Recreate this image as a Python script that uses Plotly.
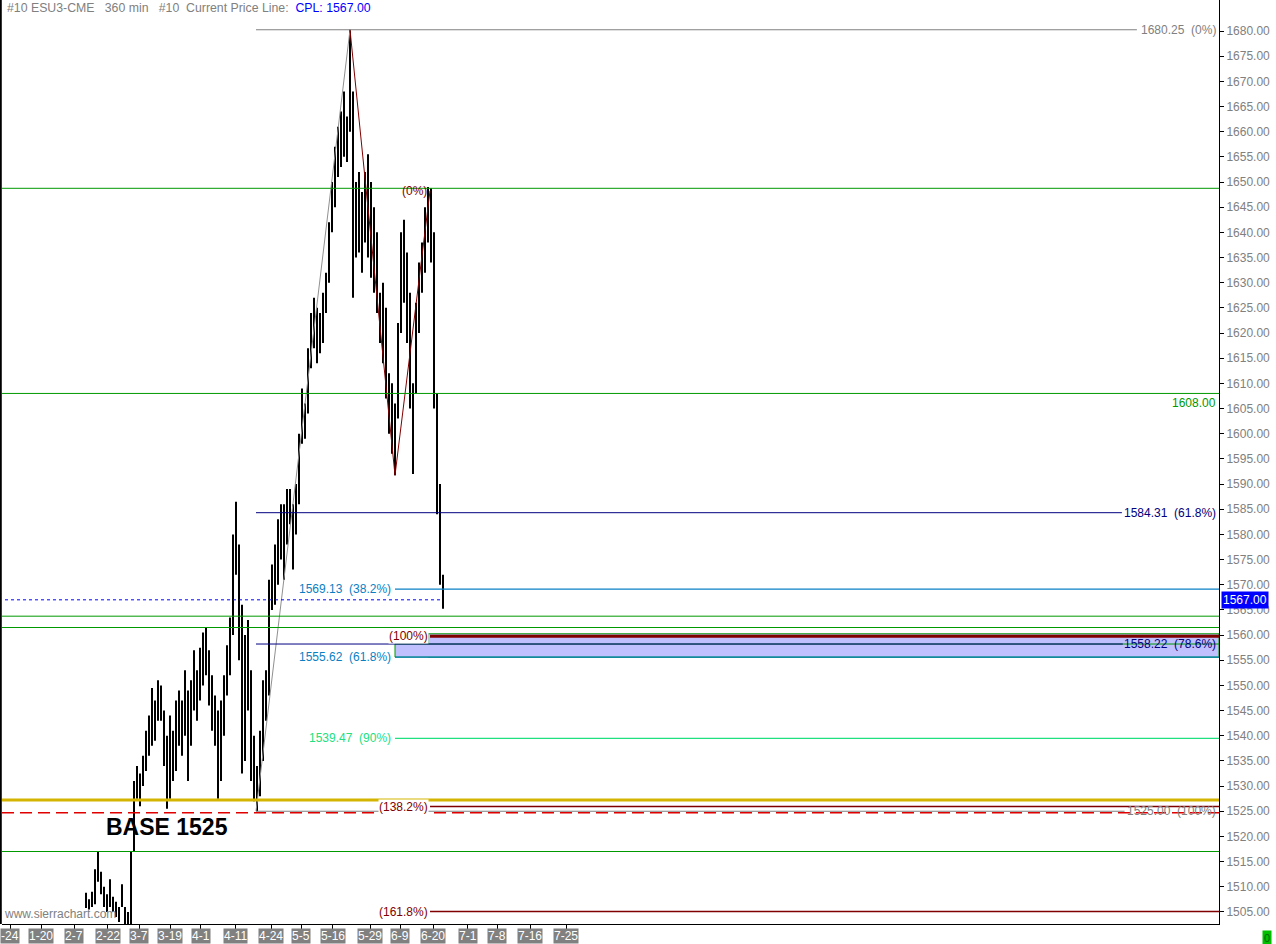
import plotly.graph_objects as go

# ---------------- data ----------------
# bar slots (360-min bars, compressed) and their high / low prices
bar_idx = list(range(1, 148))
highs = [
    1418, 1422, 1425, 1430, 1436, 1441, 1447, 1452, 1458, 1461, 1465, 1470, 1474, 1476, 1479,
    1483, 1486, 1489, 1492, 1490, 1494, 1497, 1499, 1496, 1500, 1501, 1499,
    1508.8, 1507.5, 1509, 1513.5, 1517, 1513, 1510, 1508.5, 1511.5, 1508, 1507, 1506, 1510.5,
    1506, 1505, 1517, 1531, 1534, 1532.5, 1536, 1541, 1544, 1549.5, 1547, 1551, 1550, 1545,
    1540, 1544, 1541, 1547, 1549, 1547, 1553, 1549, 1551, 1557, 1553, 1557.5, 1560.5, 1561.5,
    1557, 1552, 1548, 1545, 1547, 1552, 1558, 1563.5, 1580, 1586.5, 1578, 1566, 1560, 1563,
    1553, 1540, 1534, 1541, 1551, 1553, 1571, 1574, 1578, 1583, 1586, 1586, 1589, 1589, 1586,
    1590, 1600, 1609, 1606, 1617, 1624, 1627, 1625, 1624, 1628, 1632, 1642, 1650, 1657, 1661,
    1664, 1668, 1663, 1680.25, 1668, 1650, 1652, 1648, 1652, 1655.5, 1650, 1645, 1640, 1628,
    1630, 1625, 1612, 1610, 1606, 1622, 1640, 1642.5, 1636, 1628, 1610, 1626, 1634, 1638, 1645,
    1649, 1648.75, 1640, 1608, 1590, 1572,
]
lows = [
    1410, 1414, 1417, 1421, 1428, 1433, 1438, 1444, 1449, 1453, 1457, 1461, 1466, 1468, 1471,
    1475, 1478, 1481, 1484, 1483, 1486, 1489, 1491, 1489, 1492, 1494, 1492,
    1505.8, 1505.5, 1506, 1506.5, 1511, 1508.5, 1506, 1505, 1506, 1505, 1504, 1503, 1506,
    1502, 1500, 1500, 1517, 1527.5, 1526, 1530, 1533, 1536, 1538, 1539, 1543, 1543, 1534,
    1525.5, 1527.5, 1531, 1533, 1538, 1536, 1540, 1531, 1538, 1545, 1543, 1547, 1550, 1552,
    1546, 1541, 1538, 1527.5, 1531, 1540, 1548, 1552, 1560, 1572, 1555, 1532.5, 1535, 1545,
    1531, 1527, 1525, 1528, 1535, 1543, 1548, 1565, 1566, 1570, 1575, 1571, 1578, 1582, 1573,
    1580, 1586, 1598, 1599, 1604, 1613, 1617, 1614, 1616, 1618, 1624, 1630, 1640, 1645, 1651,
    1653, 1655, 1654, 1660, 1627, 1635, 1636, 1632, 1638, 1635, 1631, 1628, 1624, 1618,
    1614, 1607, 1600, 1596, 1591.75, 1603, 1620, 1626, 1618, 1605, 1592, 1608, 1620, 1628, 1632,
    1638, 1634, 1605, 1584, 1570, 1565.25,
]

tick_pos = [2.7, 13, 24, 35.3, 45.7, 56, 66.3, 77.7, 89.7, 99.7, 110.3, 122.7, 132.7, 143.7,
            155.3, 165, 176, 188]
tick_text = ["-24", "1-20", "2-7", "2-22", "3-7", "3-19", "4-1", "4-11", "4-24", "5-5", "5-16",
             "5-29", "6-9", "6-20", "7-1", "7-8", "7-16", "7-25"]

price_ticks = [1505 + 5 * k for k in range(36)]

current_price = 1567.00
green_levels = [1648.75, 1608.00, 1563.75, 1561.5, 1517.0]
gold_level = 1527.25
base_level = 1524.7

# swing anchors (bar slot, price)
swing_low_idx, swing_low = 84.67, 1525.00
peak_idx, peak = 116, 1680.25
b_idx, b_low = 131, 1591.75
c_idx, c_high = 142.67, 1648.25

fib1_levels = [1680.25, 1584.31, 1558.22, 1525.00]
fib1_labels = ["1680.25\u00a0\u00a0(0%)", "1584.31\u00a0\u00a0(61.8%)", "1558.22\u00a0\u00a0(78.6%)",
               "1525.00\u00a0\u00a0(100%)"]
fib1_colors = ["#808080", "#000080", "#000080", "#808080"]
fib1_line_end = [378.3, 373.3, 373.6, 374.2]

fib2_levels = [1569.13, 1555.62, 1539.47]
fib2_labels = ["1569.13\u00a0\u00a0(38.2%)", "1555.62\u00a0\u00a0(61.8%)", "1539.47\u00a0\u00a0(90%)"]
fib2_colors = ["#0A80C4", "#0A80C4", "#20E080"]

ext_levels = [1559.75, 1525.94, 1505.06]
ext_labels = ["(100%)", "(138.2%)", "(161.8%)"]
ext_widths = [3, 1.5, 1.5]

zone_top_right = 1560.25

# ---------------- figure ----------------
XMAX = 1217 / 3.0
YMIN, YMAX = 1502.6, 1686.16
FONT = "Liberation Sans, Arial, sans-serif"

fig = go.Figure()

bx, by = [], []
for i, h, l in zip(bar_idx, highs, lows):
    bx += [i, i, None]
    by += [l, h, None]
fig.add_trace(go.Scatter(x=bx, y=by, mode="lines", line=dict(color="black", width=2),
                         hoverinfo="skip", showlegend=False))

fig.add_trace(go.Scatter(x=[swing_low_idx, peak_idx], y=[swing_low, peak], mode="lines",
                         line=dict(color="#909090", width=1), showlegend=False))
fig.add_trace(go.Scatter(x=[peak_idx, b_idx, c_idx], y=[peak, b_low, c_high], mode="lines",
                         line=dict(color="#800000", width=1), showlegend=False))

shapes = []
# shaded zone
shapes.append(dict(type="rect", xref="x", yref="y", x0=c_idx - 0.67, x1=XMAX,
                   y0=fib2_levels[1], y1=zone_top_right, fillcolor="#C0C0FF",
                   line=dict(color="#009900", width=1), layer="below"))
shapes.append(dict(type="rect", xref="x", yref="y", x0=b_idx, x1=XMAX,
                   y0=fib2_levels[1], y1=fib1_levels[2], fillcolor="#C0C0FF",
                   line=dict(color="#009900", width=1), layer="below"))

for lv in green_levels:
    shapes.append(dict(type="line", xref="paper", yref="y", x0=0, x1=1, y0=lv, y1=lv,
                       line=dict(color="#009900", width=1)))
shapes.append(dict(type="line", xref="paper", yref="y", x0=0, x1=1, y0=gold_level, y1=gold_level,
                   line=dict(color="#D4B400", width=3)))

for lv, col, xe in zip(fib1_levels, fib1_colors, fib1_line_end):
    shapes.append(dict(type="line", xref="x", yref="y", x0=swing_low_idx, x1=xe, y0=lv, y1=lv,
                       line=dict(color=col, width=1)))
for lv, col in zip(fib2_levels, fib2_colors):
    shapes.append(dict(type="line", xref="x", yref="y", x0=b_idx, x1=XMAX, y0=lv, y1=lv,
                       line=dict(color=col, width=1.2)))
for lv, w in zip(ext_levels, ext_widths):
    shapes.append(dict(type="line", xref="x", yref="y", x0=c_idx, x1=XMAX, y0=lv, y1=lv,
                       line=dict(color="#800000", width=w)))

shapes.append(dict(type="line", xref="paper", yref="y", x0=0, x1=1, y0=base_level, y1=base_level,
                   line=dict(color="#E00000", width=1.5, dash="12px,6px")))
shapes.append(dict(type="line", xref="x", yref="y", x0=bar_idx[0], x1=bar_idx[-1],
                   y0=current_price, y1=current_price,
                   line=dict(color="#0000FF", width=1, dash="dot")))
shapes.append(dict(type="line", xref="paper", yref="paper", x0=-0.001, x1=-0.001, y0=0, y1=1,
                   line=dict(color="black", width=2)))

ann = []
for lv, txt, col in zip(fib1_levels, fib1_labels, fib1_colors):
    ann.append(dict(xref="paper", yref="y", x=1, y=lv, xanchor="right", yanchor="middle",
                    xshift=-1, text=txt, showarrow=False,
                    font=dict(color=col, size=12, family=FONT)))
for lv, txt, col in zip(fib2_levels, fib2_labels, fib2_colors):
    ann.append(dict(xref="x", yref="y", x=b_idx, y=lv, xanchor="right", yanchor="middle",
                    xshift=-2, text=txt, showarrow=False,
                    font=dict(color=col, size=12, family=FONT)))
for lv, txt in zip(ext_levels, ext_labels):
    ann.append(dict(xref="x", yref="y", x=c_idx, y=lv, xanchor="right", yanchor="middle",
                    xshift=-1, text=txt, showarrow=False, bgcolor="white", borderpad=0,
                    font=dict(color="#800000", size=12, family=FONT)))
ann.append(dict(xref="x", yref="y", x=c_idx, y=c_high, xanchor="right", yanchor="middle",
                xshift=-1, text="(0%)", showarrow=False,
                font=dict(color="#800000", size=12, family=FONT)))
ann.append(dict(xref="paper", yref="y", x=1, y=green_levels[1], xanchor="right", yanchor="top",
                xshift=-1, yshift=-1, text="1608.00", showarrow=False,
                font=dict(color="#009900", size=12, family=FONT)))
ann.append(dict(xref="x", yref="y", x=55, y=1521.9, text="<b>BASE 1525</b>", showarrow=False,
                font=dict(color="black", size=23, family=FONT)))
ann.append(dict(xref="paper", yref="paper", x=0, y=1, xanchor="left", yanchor="top", xshift=3,
                yshift=1, showarrow=False,
                text="#10 ESU3-CME\u00a0\u00a0\u00a0360 min\u00a0\u00a0\u00a0#10\u00a0\u00a0Current Price Line:\u00a0\u00a0"
                     "<span style='color:#0000FF'>CPL: 1567.00</span>",
                font=dict(color="#808080", size=12.3, family=FONT)))
ann.append(dict(xref="paper", yref="paper", x=0, y=0, xanchor="left", yanchor="bottom", xshift=0,
                yshift=1, showarrow=False, text="www.sierrachart.com",
                font=dict(color="#808080", size=12, family=FONT)))
ann.append(dict(xref="paper", yref="y", x=1, y=current_price, xanchor="left", yanchor="middle",
                xshift=2, showarrow=False, text="1567.00", bgcolor="#0000FF", borderpad=1,
                font=dict(color="white", size=12, family=FONT)))
ann.append(dict(xref="paper", yref="paper", x=1, y=0, xanchor="left", yanchor="top", xshift=43,
                yshift=-6, showarrow=False, text="0", bgcolor="#00C000", borderpad=1,
                font=dict(color="#006000", size=11, family=FONT)))
for tp, tt in zip(tick_pos, tick_text):
    ann.append(dict(xref="x", yref="paper", x=tp, y=0, xanchor="center", yanchor="top",
                    yshift=-4, showarrow=False, text=tt, bgcolor="#808080", borderpad=0,
                    font=dict(color="white", size=12, family=FONT)))

fig.update_layout(
    width=1276, height=944,
    margin=dict(l=2, r=57, t=0, b=20),
    paper_bgcolor="white", plot_bgcolor="white",
    showlegend=False,
    shapes=shapes, annotations=ann,
    xaxis=dict(range=[0, XMAX], showgrid=False, zeroline=False, showline=True,
               linecolor="black", linewidth=1, ticks="outside", ticklen=4, tickcolor="black",
               tickvals=tick_pos, showticklabels=False, fixedrange=True),
    yaxis=dict(range=[YMIN, YMAX], side="right", showgrid=False, zeroline=False, showline=True,
               linecolor="black", linewidth=1, ticks="outside", ticklen=4, tickcolor="black",
               tickvals=price_ticks, ticktext=[f"{v:.2f}" for v in price_ticks],
               tickfont=dict(color="#808080", size=12, family=FONT), fixedrange=True),
)

fig.write_html("out.html", config={"displayModeBar": False},
               post_script="document.body.style.margin='0';document.body.style.overflow='hidden';")
